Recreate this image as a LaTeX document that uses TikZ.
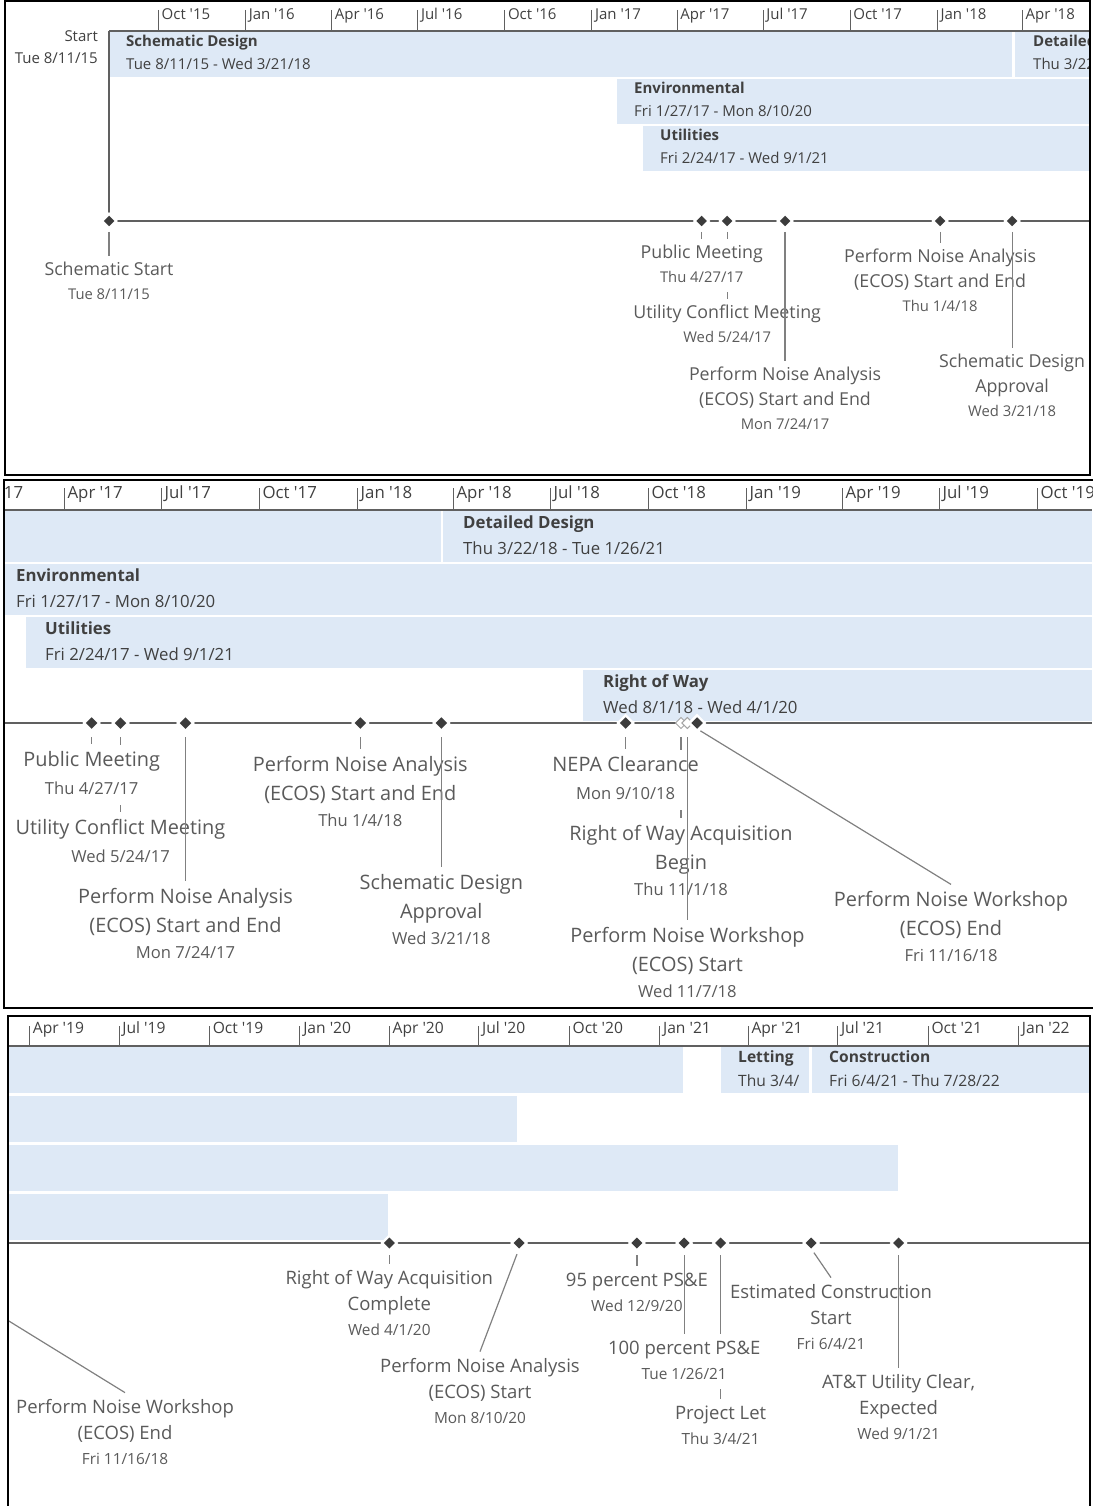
\documentclass[tikz,border=0pt]{standalone}
\usepackage{fontspec}
\setmainfont{Open Sans}
\newfontfamily\tsfont{Open Sans}
\usetikzlibrary{shapes.geometric}

\definecolor{barblue}{RGB}{222,233,246}
\definecolor{txtdark}{RGB}{64,64,64}
\definecolor{labgray}{RGB}{90,90,90}
\definecolor{conngray}{RGB}{128,128,128}
\definecolor{axisgray}{RGB}{96,96,96}
\definecolor{msdark}{RGB}{60,60,60}
\definecolor{chevgray}{RGB}{165,165,165}

% date lines under milestone captions, one size per panel
\newcommand\mdI[1]{\fontsize{14.8}{24.8}\selectfont #1\strut}
\newcommand\mdII[1]{\fontsize{16.6}{28.5}\selectfont #1\strut}
\newcommand\mdIII[1]{\fontsize{15.4}{26.2}\selectfont #1\strut}

\tikzset{
  ganttbar/.style={fill=barblue},
  panelframe/.style={draw=black, line width=2pt},
  scaleline/.style={draw=axisgray, line width=1.3pt},
  scaletick/.style={draw=axisgray, line width=1pt},
  mileline/.style={draw=axisgray, line width=1.3pt},
  leader/.style={draw=conngray, line width=1.2pt},
  mstone/.style={diamond, fill=msdark, inner sep=0pt, outer sep=0pt,
    preaction={draw=white, line width=5pt}},
  msI/.style={mstone, minimum size=10.5pt},
  msII/.style={mstone, minimum size=11.5pt},
  msIII/.style={mstone, minimum size=11pt},
  mhollow/.style={diamond, fill=white, draw=chevgray, line width=1pt, inner sep=0pt, outer sep=0pt, minimum size=11pt},
  maskfill/.style={fill=white},
  lbl/.style={align=center, anchor=north, inner xsep=0pt, inner ysep=2pt, text=labgray},
  lblI/.style={lbl, font=\fontsize{17.8}{24.8}\selectfont},
  lblII/.style={lbl, font=\fontsize{19.9}{28.5}\selectfont},
  lblIII/.style={lbl, font=\fontsize{18.5}{26.2}\selectfont},
  btxt/.style={align=left, anchor=north west, inner sep=0pt, text=txtdark},
  btI/.style={btxt, font=\fontsize{15}{23}\selectfont},
  btII/.style={btxt, font=\fontsize{16.8}{26}\selectfont},
  btIII/.style={btxt, font=\fontsize{15.6}{24}\selectfont},
  tslbl/.style={anchor=base west, inner sep=0pt, text=txtdark},
  tsI/.style={tslbl, font=\tsfont\fontsize{15}{18}\selectfont},
  tsII/.style={tslbl, font=\tsfont\fontsize{16.8}{20}\selectfont},
  tsIII/.style={tslbl, font=\tsfont\fontsize{15.6}{19}\selectfont},
}

\begin{document}
\begin{tikzpicture}[x=1pt,y=-1pt]
\useasboundingbox (0,0) rectangle (1092,1506);

%================ panel 1 : Aug 2015 - Apr 2018 ================
\begin{scope}
\clip (5,1) rectangle (1090,475);
% task bars
\fill[ganttbar] (109.5,32) rectangle (1012,77);
\fill[ganttbar] (1015,32) rectangle (1092,77);
\fill[ganttbar] (616.5,79) rectangle (1092,124);
\fill[ganttbar] (643,126) rectangle (1092,171);
\node[btI] (b1sd) at (126,30.7) {\strut\textbf{Schematic Design}\\Tue 8/11/15 - Wed 3/21/18};
\node[btI] (b1dd) at (1033,30.7) {\strut\textbf{Detailed Design}\\Thu 3/22/18 - Tue 1/26/21};
\node[btI] (b1en) at (634,77.7) {\strut\textbf{Environmental}\\Fri 1/27/17 - Mon 8/10/20};
\node[btI] (b1ut) at (660,124.7) {\strut\textbf{Utilities}\\Fri 2/24/17 - Wed 9/1/21};
% time scale
\coordinate (p1top) at (109,31);
\coordinate (p1tsr) at (1090,31);
\draw[scaleline] (p1top) -- (p1tsr);
\foreach \x/\t [count=\i] in {158.5/{Oct '15},245.6/{Jan '16},331.7/{Apr '16},417.8/{Jul '16},504.8/{Oct '16},591.9/{Jan '17},677.1/{Apr '17},763.2/{Jul '17},850.2/{Oct '17},937.3/{Jan '18},1022.5/{Apr '18}}{
  \draw[scaletick] (\x,10) -- (\x,31);
  \node[tsI] (ts1-\i) at (\x+3,20) {\t};
}
\node[align=right, anchor=north east, inner sep=0pt, text=txtdark, font=\fontsize{15}{22}\selectfont] (p1start) at (98,26.4) {\strut Start\\Tue 8/11/15};
% milestone line
\coordinate (p1ml) at (109,221);
\coordinate (p1mr) at (1090,221);
\draw[scaleline] (p1top) -- (p1ml);
\draw[mileline] (p1ml) -- (p1mr);
\node[msI] (d1a) at (109,221) {};
\node[msI] (d1b) at (701.7,221) {};
\node[msI] (d1c) at (727.2,221) {};
\node[msI] (d1d) at (785.0,221) {};
\node[msI] (d1e) at (940.1,221) {};
\node[msI] (d1f) at (1012.1,221) {};
% captions
\node[lblI] (l1a) at (109,256.3) {\strut Schematic Start\\[-1pt]\mdI{Tue 8/11/15}};
\node[lblI] (l1c) at (727.2,299.3) {\strut Utility Conflict Meeting\\[-1pt]\mdI{Wed 5/24/17}};
\node[lblI] (l1d) at (785.0,361.3) {\strut Perform Noise Analysis\\(ECOS) Start and End\\[-1pt]\mdI{Mon 7/24/17}};
\node[lblI] (l1e) at (940.1,243.3) {\strut Perform Noise Analysis\\(ECOS) Start and End\\[-1pt]\mdI{Thu 1/4/18}};
\node[lblI] (l1f) at (1012.1,348.3) {\strut Schematic Design\\Approval\\[-1pt]\mdI{Wed 3/21/18}};
\draw[leader, shorten <=5.75pt] (d1c.south) -- (d1c.south |- l1c.north);
\node[lblI, maskfill] (l1b) at (701.7,239.3) {\strut Public Meeting\\[-1pt]\mdI{Thu 4/27/17}};
\draw[leader, shorten <=5.75pt] (d1a.south) -- (d1a.south |- l1a.north);
\draw[leader, shorten <=5.75pt] (d1b.south) -- (d1b.south |- l1b.north);
\draw[leader, shorten <=5.75pt] (d1d.south) -- (d1d.south |- l1d.north);
\draw[leader, shorten <=5.75pt] (d1e.south) -- (d1e.south |- l1e.north);
\draw[leader, shorten <=5.75pt] (d1f.south) -- (d1f.south |- l1f.north);
\end{scope}
\draw[panelframe] (5,1) rectangle (1090,475);

%================ panel 2 : Jan 2017 - Oct 2019 ================
\begin{scope}
\clip (4,480) rectangle (1092,1008);
\fill[ganttbar] (0,511) rectangle (440.5,562);
\fill[ganttbar] (443.3,511) rectangle (1092,562);
\fill[ganttbar] (0,564) rectangle (1092,615);
\fill[ganttbar] (25.6,617) rectangle (1092,668);
\fill[ganttbar] (583,670) rectangle (1092,721);
\node[btII] (b2dd) at (463,510.2) {\strut\textbf{Detailed Design}\\Thu 3/22/18 - Tue 1/26/21};
\node[btII] (b2en) at (16,563.2) {\strut\textbf{Environmental}\\Fri 1/27/17 - Mon 8/10/20};
\node[btII] (b2ut) at (45,616.2) {\strut\textbf{Utilities}\\Fri 2/24/17 - Wed 9/1/21};
\node[btII] (b2rw) at (603,669.2) {\strut\textbf{Right of Way}\\Wed 8/1/18 - Wed 4/1/20};
\coordinate (p2tsl) at (4,510);
\coordinate (p2tsr) at (1092,510);
\draw[scaleline] (p2tsl) -- (p2tsr);
\foreach \x/\t [count=\i] in {-31.9/{Jan '17},64/{Apr '17},161/{Jul '17},259/{Oct '17},357.1/{Jan '18},453/{Apr '18},550/{Jul '18},648/{Oct '18},746/{Jan '19},842/{Apr '19},939/{Jul '19},1037/{Oct '19}}{
  \draw[scaletick] (\x,488) -- (\x,510);
  \node[tsII] (ts2-\i) at (\x+3.4,498) {\t};
}
\coordinate (p2ml) at (4,723);
\coordinate (p2mr) at (1092,723);
\draw[mileline] (p2ml) -- (p2mr);
\node[msII] (d2a) at (91.7,723) {};
\node[msII] (d2b) at (120.5,723) {};
\node[msII] (d2c) at (185.5,723) {};
\node[msII] (d2d) at (360.3,723) {};
\node[msII] (d2e) at (441.3,723) {};
\node[msII] (d2f) at (625.6,723) {};
\node[mhollow] (d2g) at (681.0,723) {};
\node[mhollow] (d2h) at (687.4,723) {};
\node[msII] (d2i) at (697.0,723) {};
\node[lblII] (l2b) at (120.5,812.4) {\strut Utility Conflict Meeting\\[-1pt]\mdII{Wed 5/24/17}};
\node[lblII] (l2c) at (185.5,881.4) {\strut Perform Noise Analysis\\(ECOS) Start and End\\[-2pt]\mdII{Mon 7/24/17}};
\node[lblII] (l2d) at (360.3,749.4) {\strut Perform Noise Analysis\\(ECOS) Start and End\\[-2pt]\mdII{Thu 1/4/18}};
\node[lblII] (l2e) at (441.3,867.4) {\strut Schematic Design\\Approval\\[-2pt]\mdII{Wed 3/21/18}};
\node[lblII] (l2g) at (681.0,818.4) {\strut Right of Way Acquisition\\Begin\\[-2pt]\mdII{Thu 11/1/18}};
\node[lblII] (l2h) at (687.4,920.4) {\strut Perform Noise Workshop\\(ECOS) Start\\[-2pt]\mdII{Wed 11/7/18}};
\node[lblII] (l2i) at (951,884.4) {\strut Perform Noise Workshop\\(ECOS) End\\[-2pt]\mdII{Fri 11/16/18}};
\draw[leader, shorten <=8.25pt] (d2b.south) -- (d2b.south |- l2b.north);
\draw[leader, shorten <=8.5pt] (d2g.south) -- (d2g.south |- l2g.north);
\node[lblII, maskfill] (l2a) at (91.7,744.4) {\strut Public Meeting\\[-1pt]\mdII{Thu 4/27/17}};
\node[lblII, maskfill] (l2f) at (625.6,749.4) {\strut NEPA Clearance\\[-1pt]\mdII{Mon 9/10/18}};
\draw[leader, shorten <=8.25pt] (d2a.south) -- (d2a.south |- l2a.north);
\draw[leader, shorten <=8.25pt] (d2c.south) -- (d2c.south |- l2c.north);
\draw[leader, shorten <=8.25pt] (d2d.south) -- (d2d.south |- l2d.north);
\draw[leader, shorten <=8.25pt] (d2e.south) -- (d2e.south |- l2e.north);
\draw[leader, shorten <=8.25pt] (d2f.south) -- (d2f.south |- l2f.north);
\draw[leader, shorten <=8.5pt] (d2h.south) -- (d2h.south |- l2h.north);
\draw[leader, shorten <=4pt] (d2i.south) -- (l2i.north);
\end{scope}
\draw[panelframe] (1095,480) -- (4,480) -- (4,1008) -- (1095,1008);

%================ panel 3 : Apr 2019 - Jan 2022 ================
\begin{scope}
\clip (8,1016) rectangle (1090,1506);
\fill[ganttbar] (0,1047) rectangle (683.2,1093);
\fill[ganttbar] (720.6,1047) rectangle (808.5,1093);
\fill[ganttbar] (812,1047) rectangle (1092,1093);
\fill[ganttbar] (0,1096) rectangle (517.1,1142);
\fill[ganttbar] (0,1145) rectangle (897.5,1191);
\fill[ganttbar] (0,1194) rectangle (388.3,1240);
\node[btIII] (b3lt) at (738,1045.2) {\strut\textbf{Letting}\\Thu 3/4/};
\node[btIII] (b3cn) at (829,1045.2) {\strut\textbf{Construction}\\Fri 6/4/21 - Thu 7/28/22};
\coordinate (p3tsl) at (8,1046);
\coordinate (p3tsr) at (1090,1046);
\draw[scaleline] (p3tsl) -- (p3tsr);
\foreach \x/\t [count=\i] in {29.5/{Apr '19},119/{Jul '19},209.4/{Oct '19},299.9/{Jan '20},389.3/{Apr '20},478.8/{Jul '20},569.2/{Oct '20},659.7/{Jan '21},748.1/{Apr '21},837.6/{Jul '21},928.1/{Oct '21},1018.5/{Jan '22}}{
  \draw[scaletick] (\x,1026) -- (\x,1046);
  \node[tsIII] (ts3-\i) at (\x+3.2,1033.6) {\t};
}
\coordinate (p3ml) at (8,1243);
\coordinate (p3mr) at (1090,1243);
\draw[mileline] (p3ml) -- (p3mr);
\node[msIII] (d3a) at (389.3,1243) {};
\node[msIII] (d3b) at (519.1,1243) {};
\node[msIII] (d3c) at (636.9,1243) {};
\node[msIII] (d3d) at (684.2,1243) {};
\node[msIII] (d3e) at (720.6,1243) {};
\node[msIII] (d3f) at (811.1,1243) {};
\node[msIII] (d3g) at (898.6,1243) {};
\coordinate (d3w) at (-104.2,1251.3);
\node[lblIII] (l3a) at (389.3,1263.6) {\strut Right of Way Acquisition\\Complete\\[-1.5pt]\mdIII{Wed 4/1/20}};
\node[lblIII] (l3b) at (480,1351.6) {\strut Perform Noise Analysis\\(ECOS) Start\\[-1.5pt]\mdIII{Mon 8/10/20}};
\node[lblIII] (l3c) at (636.9,1265.6) {\strut 95 percent PS\&E\\[-1pt]\mdIII{Wed 12/9/20}};
\node[lblIII] (l3e) at (720.6,1398.6) {\strut Project Let\\[-1pt]\mdIII{Thu 3/4/21}};
\node[lblIII] (l3f) at (831,1277.6) {\strut Estimated Construction\\Start\\[-1.5pt]\mdIII{Fri 6/4/21}};
\node[lblIII] (l3g) at (898.6,1367.6) {\strut AT\&T Utility Clear,\\Expected\\[-1.5pt]\mdIII{Wed 9/1/21}};
\node[lblIII] (l3h) at (125,1392.6) {\strut Perform Noise Workshop\\(ECOS) End\\[-1.5pt]\mdIII{Fri 11/16/18}};
\draw[leader, shorten <=6.5pt] (d3e.south) -- (d3e.south |- l3e.north);
\node[lblIII, maskfill] (l3d) at (684.2,1333.6) {\strut 100 percent PS\&E\\[-1pt]\mdIII{Tue 1/26/21}};
\draw[leader, shorten <=6.5pt] (d3a.south) -- (d3a.south |- l3a.north);
\draw[leader, shorten <=6pt] (d3b.south) -- (l3b.north);
\draw[leader, shorten <=6.5pt] (d3c.south) -- (d3c.south |- l3c.north);
\draw[leader, shorten <=6.5pt] (d3d.south) -- (d3d.south |- l3d.north);
\draw[leader, shorten <=5pt] (d3f.south) -- (l3f.north);
\draw[leader, shorten <=6.5pt] (d3g.south) -- (d3g.south |- l3g.north);
\draw[leader, shorten <=2pt] (d3w) -- (l3h.north);
\end{scope}
\draw[panelframe] (8,1510) -- (8,1016) -- (1090,1016) -- (1090,1510);

\end{tikzpicture}
\end{document}
